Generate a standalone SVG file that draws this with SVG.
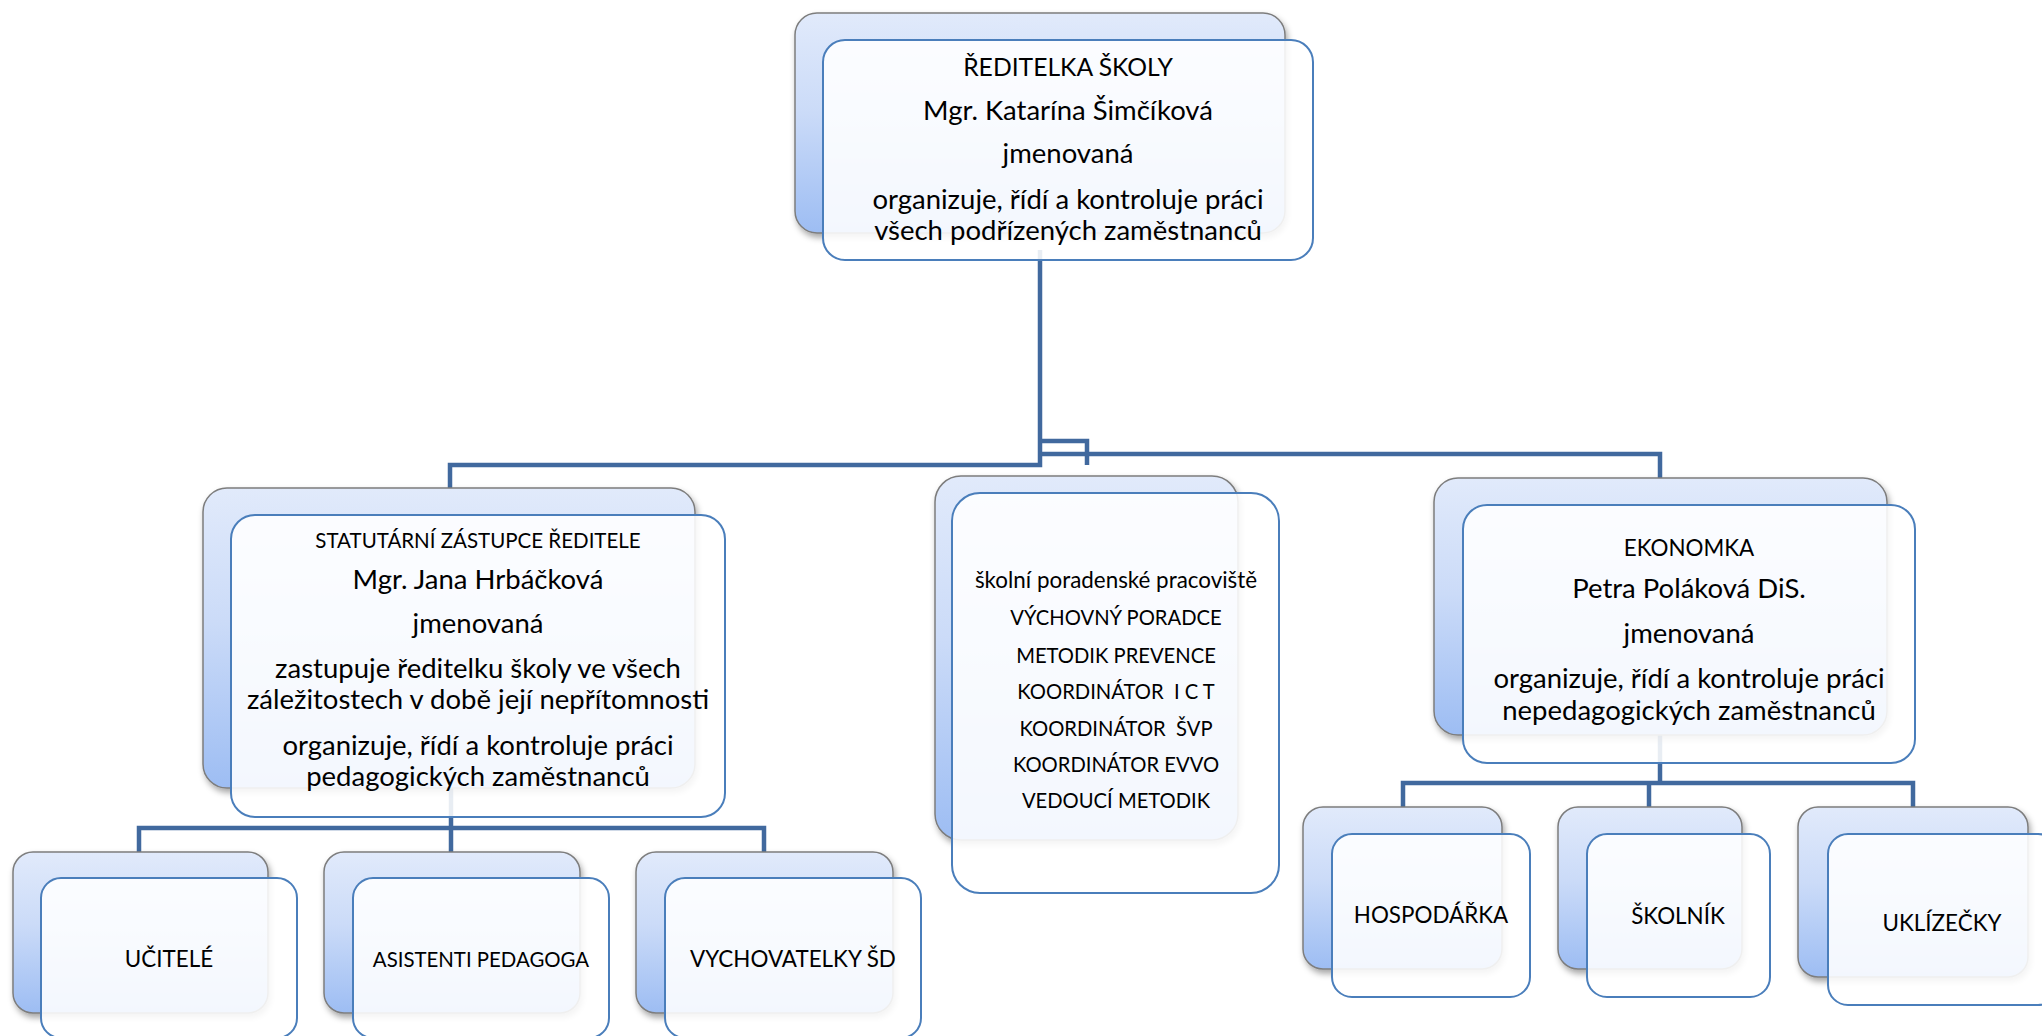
<svg xmlns="http://www.w3.org/2000/svg" width="2042" height="1036" viewBox="0 0 2042 1036">
<defs>
  <linearGradient id="bg" x1="0" y1="0" x2="0" y2="1">
    <stop offset="0" stop-color="#e1eafb"/>
    <stop offset="0.45" stop-color="#cbdbf8"/>
    <stop offset="1" stop-color="#9dbdf3"/>
  </linearGradient>
  <filter id="sh" x="-10%" y="-10%" width="125%" height="130%">
    <feDropShadow dx="2" dy="4" stdDeviation="3" flood-color="#000" flood-opacity="0.35"/>
  </filter>
  <style>
    .back { fill: url(#bg); stroke: #7d7d7d; stroke-width: 1.5; filter: url(#sh); }
    .front { fill: #ffffff; fill-opacity: 0.88; stroke: #4a7ebb; stroke-width: 2; }
    .conn { fill: none; stroke: #41699e; stroke-width: 4.5; stroke-linejoin: miter; }
    text { font-family: Lato, "Open Sans", "Liberation Sans", sans-serif; fill: #000; text-anchor: middle; }
    .t { font-size: 27.5px; }
    .u { font-size: 22.4px; }
    .s { font-size: 20.5px; }
    .m { font-size: 20.2px; }
  </style>
</defs>
<rect width="2042" height="1036" fill="#ffffff"/>

<g id="connectors">
  <path class="conn" d="M1040 250 V465 H450 V488"/>
  <path class="conn" d="M1040 441 H1087 V465"/>
  <path class="conn" d="M1040 454 H1660 V478"/>
  <path class="conn" d="M451 760 V828"/>
  <path class="conn" d="M139 852 V828 H764 V852"/>
  <path class="conn" d="M451 828 V852"/>
  <path class="conn" d="M1660 720 V783"/>
  <path class="conn" d="M1403 807 V783 H1913 V807"/>
  <path class="conn" d="M1649 783 V807"/>
</g>

<g id="reditelka">
  <rect class="back" x="795" y="13" width="490" height="220" rx="22"/>
  <rect class="front" x="823" y="40" width="490" height="220" rx="22"/>
  <text class="t" x="1068" y="76" style="font-size:24.7px">ŘEDITELKA ŠKOLY</text>
  <text class="t" x="1068" y="120">Mgr. Katarína Šimčíková</text>
  <text class="t" x="1068" y="163">jmenovaná</text>
  <text class="t" x="1068" y="209">organizuje, řídí a kontroluje práci</text>
  <text class="t" x="1068" y="240">všech podřízených zaměstnanců</text>
</g>

<g id="zastupce">
  <rect class="back" x="203" y="488" width="492" height="300" rx="24"/>
  <rect class="front" x="231" y="515" width="494" height="302" rx="24"/>
  <text class="s" x="478" y="548">STATUTÁRNÍ ZÁSTUPCE ŘEDITELE</text>
  <text class="t" x="478" y="589">Mgr. Jana Hrbáčková</text>
  <text class="t" x="478" y="633">jmenovaná</text>
  <text class="t" x="478" y="678">zastupuje ředitelku školy ve všech</text>
  <text class="t" x="478" y="709">záležitostech v době její nepřítomnosti</text>
  <text class="t" x="478" y="755">organizuje, řídí a kontroluje práci</text>
  <text class="t" x="478" y="786">pedagogických zaměstnanců</text>
</g>

<g id="poradenske">
  <rect class="back" x="935" y="476" width="303" height="364" rx="26"/>
  <rect class="front" x="952" y="493" width="327" height="400" rx="28"/>
  <text class="m" x="1116" y="588" style="font-size:22.4px">školní poradenské pracoviště</text>
  <text class="m" x="1116" y="625">VÝCHOVNÝ PORADCE</text>
  <text class="m" x="1116" y="663">METODIK PREVENCE</text>
  <text class="m" x="1116" y="699" xml:space="preserve">KOORDINÁTOR  I C T</text>
  <text class="m" x="1116" y="736" xml:space="preserve">KOORDINÁTOR  ŠVP</text>
  <text class="m" x="1116" y="772">KOORDINÁTOR EVVO</text>
  <text class="m" x="1116" y="808">VEDOUCÍ METODIK</text>
</g>

<g id="ekonomka">
  <rect class="back" x="1434" y="478" width="453" height="257" rx="24"/>
  <rect class="front" x="1463" y="505" width="452" height="258" rx="24"/>
  <text class="u" x="1689" y="556">EKONOMKA</text>
  <text class="t" x="1689" y="598">Petra Poláková DiS.</text>
  <text class="t" x="1689" y="643">jmenovaná</text>
  <text class="t" x="1689" y="688">organizuje, řídí a kontroluje práci</text>
  <text class="t" x="1689" y="720">nepedagogických zaměstnanců</text>
</g>

<g id="ucitele">
  <rect class="back" x="13" y="852" width="255" height="161" rx="20"/>
  <rect class="front" x="41" y="878" width="256" height="160" rx="20"/>
  <text class="u" x="169" y="967">UČITELÉ</text>
</g>

<g id="asistenti">
  <rect class="back" x="324" y="852" width="256" height="161" rx="20"/>
  <rect class="front" x="353" y="878" width="256" height="160" rx="20"/>
  <text class="u" x="481" y="967" style="font-size:20.4px">ASISTENTI PEDAGOGA</text>
</g>

<g id="vychovatelky">
  <rect class="back" x="636" y="852" width="257" height="161" rx="20"/>
  <rect class="front" x="665" y="878" width="256" height="160" rx="20"/>
  <text class="u" x="793" y="967">VYCHOVATELKY ŠD</text>
</g>

<g id="hospodarka">
  <rect class="back" x="1303" y="807" width="199" height="162" rx="20"/>
  <rect class="front" x="1332" y="834" width="198" height="163" rx="20"/>
  <text class="u" x="1431" y="923">HOSPODÁŘKA</text>
</g>

<g id="skolnik">
  <rect class="back" x="1558" y="807" width="184" height="162" rx="20"/>
  <rect class="front" x="1587" y="834" width="183" height="163" rx="20"/>
  <text class="u" x="1678" y="924">ŠKOLNÍK</text>
</g>

<g id="uklizecky">
  <rect class="back" x="1798" y="807" width="230" height="170" rx="20"/>
  <rect class="front" x="1828" y="834" width="230" height="171" rx="20"/>
  <text class="u" x="1942" y="931">UKLÍZEČKY</text>
</g>
</svg>
